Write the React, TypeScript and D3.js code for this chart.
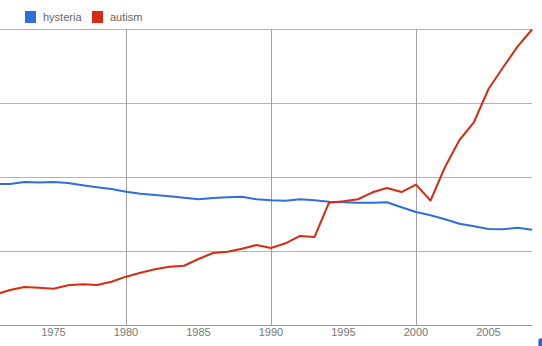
import React from "react";
import * as d3 from "d3";

const years = d3.range(1971, 2009);
const hysteria = [1.905, 1.905, 1.932, 1.926, 1.932, 1.919, 1.888, 1.861, 1.838, 1.801, 1.774, 1.757, 1.739, 1.72, 1.699, 1.716, 1.726, 1.734, 1.699, 1.685, 1.68, 1.699, 1.685, 1.666, 1.658, 1.653, 1.653, 1.658, 1.591, 1.527, 1.482, 1.428, 1.369, 1.334, 1.297, 1.293, 1.315, 1.288];
const autism = [0.412, 0.473, 0.514, 0.504, 0.491, 0.536, 0.55, 0.541, 0.585, 0.653, 0.707, 0.753, 0.788, 0.801, 0.892, 0.973, 0.991, 1.031, 1.081, 1.041, 1.104, 1.203, 1.189, 1.653, 1.672, 1.699, 1.793, 1.851, 1.797, 1.896, 1.682, 2.135, 2.5, 2.743, 3.189, 3.48, 3.761, 3.993];
const seriesNames = ["hysteria", "autism"];
const colors = ["#2d6fdc", "#d52c13"];
const xTicks = [1975, 1980, 1985, 1990, 1995, 2000, 2005];
const gridYears = [1980, 1990, 2000];
const yGrid = [1, 2, 3, 4];

export default function App() {
  if (typeof document !== "undefined") document.body.style.margin = "0";
  const W = 542, H = 346;
  const x = d3.scaleLinear().domain([1970, 2008]).range([-19, 532]);
  const y = d3.scaleLinear().domain([0, 4]).range([325, 29]);
  const line = d3.line<number>().x((_, i) => x(years[i])).y((d) => y(d));
  const data = [hysteria, autism];
  return (
    <svg width={W} height={H} style={{ display: "block", fontFamily: "Arial, 'Liberation Sans', sans-serif" }}>
      <defs>
        <clipPath id="plot">
          <rect x={0} y={0} width={533} height={326} />
        </clipPath>
      </defs>
      <rect width={W} height={H} fill="#fff" />
      {yGrid.map((v) => (
        <line key={v} x1={0} x2={532} y1={Math.round(y(v)) + 0.5} y2={Math.round(y(v)) + 0.5} stroke="#b3b3b3" strokeWidth={1} />
      ))}
      {gridYears.map((g) => (
        <line key={g} x1={Math.round(x(g)) + 0.5} x2={Math.round(x(g)) + 0.5} y1={29} y2={325} stroke="#a0a0a0" strokeWidth={1} />
      ))}
      <line x1={0} x2={532} y1={325.5} y2={325.5} stroke="#999" strokeWidth={1} />
      {xTicks.map((t) => (
        <text key={t} x={x(t)} y={336} textAnchor="middle" fontSize={11} fill="#777">{t}</text>
      ))}
      <g clipPath="url(#plot)">
        {data.map((d, i) => (
          <path key={i} d={line(d) || ""} fill="none" stroke={colors[i]} strokeWidth={2} strokeLinejoin="round" />
        ))}
      </g>
      {seriesNames.map((n, i) => {
        const lx = [25, 92][i];
        return (
          <g key={n}>
            <rect x={lx} y={11} width={11} height={12} fill={colors[i]} />
            <text x={lx + 18} y={20.5} fontSize={11} fill="#666">{n}</text>
          </g>
        );
      })}
      <rect x={538.5} y={338.5} width={10} height={14} rx={2} fill="#2a63d4" stroke="#7fa0e8" />
    </svg>
  );
}
